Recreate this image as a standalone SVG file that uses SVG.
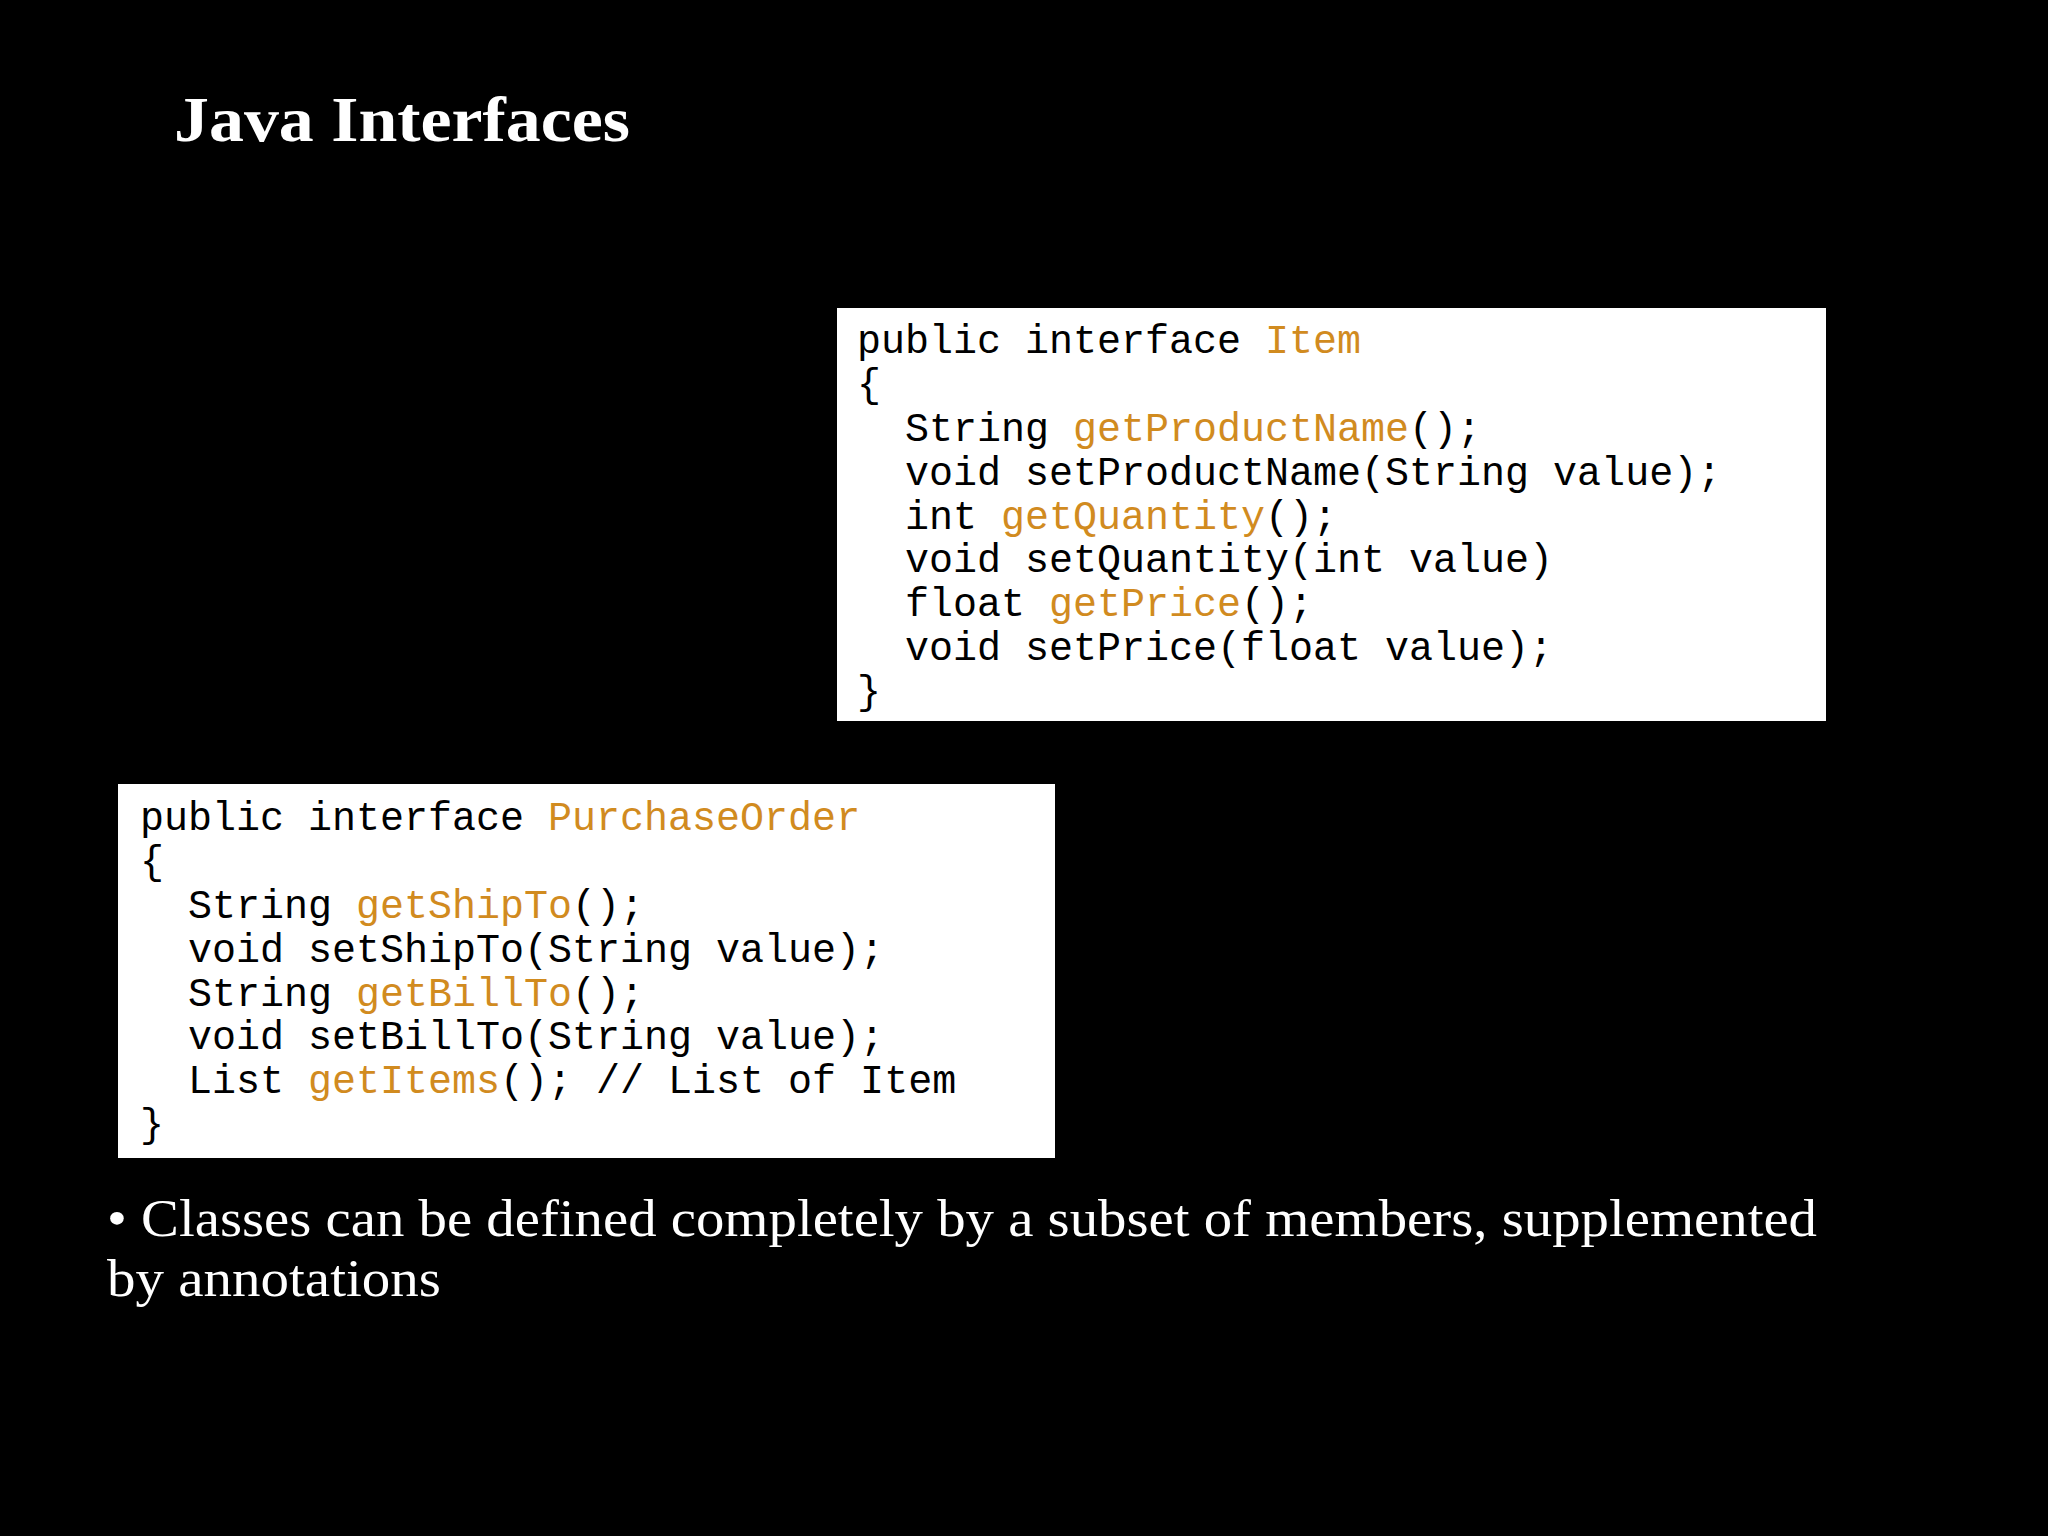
<svg xmlns="http://www.w3.org/2000/svg" width="2048" height="1536" viewBox="0 0 2048 1536">
<style>
.code{font-family:"Liberation Mono","DejaVu Sans Mono",monospace;font-size:40px;fill:#000;white-space:pre}
.k{fill:#d18b1f}
.box{fill:#fff}
</style>
<rect width="2048" height="1536" fill="#000"/>
<text x="174" y="141" font-family="Liberation Serif,serif" font-weight="bold" font-size="64" fill="#fff" textLength="456" lengthAdjust="spacingAndGlyphs">Java Interfaces</text>
<g id="item">
<rect class="box" x="837" y="308" width="989" height="413"/>
<text class="code" xml:space="preserve">
<tspan x="857" y="353">public interface <tspan class="k">Item</tspan></tspan>
<tspan x="857" y="397">{</tspan>
<tspan x="857" y="441">  String <tspan class="k">getProductName</tspan>();</tspan>
<tspan x="857" y="485">  void setProductName(String value);</tspan>
<tspan x="857" y="529">  int <tspan class="k">getQuantity</tspan>();</tspan>
<tspan x="857" y="572">  void setQuantity(int value)</tspan>
<tspan x="857" y="616">  float <tspan class="k">getPrice</tspan>();</tspan>
<tspan x="857" y="660">  void setPrice(float value);</tspan>
<tspan x="857" y="704">}</tspan>
</text>
</g>
<g id="purchaseorder">
<rect class="box" x="118" y="784" width="937" height="374"/>
<text class="code" xml:space="preserve">
<tspan x="140" y="830">public interface <tspan class="k">PurchaseOrder</tspan></tspan>
<tspan x="140" y="874">{</tspan>
<tspan x="140" y="918">  String <tspan class="k">getShipTo</tspan>();</tspan>
<tspan x="140" y="962">  void setShipTo(String value);</tspan>
<tspan x="140" y="1006">  String <tspan class="k">getBillTo</tspan>();</tspan>
<tspan x="140" y="1049">  void setBillTo(String value);</tspan>
<tspan x="140" y="1093">  List <tspan class="k">getItems</tspan>(); // List of Item</tspan>
<tspan x="140" y="1137">}</tspan>
</text>
</g>
<text font-family="Liberation Serif,serif" font-size="52" fill="#fff">
<tspan x="107" y="1236" textLength="1710" lengthAdjust="spacingAndGlyphs">• Classes can be defined completely by a subset of members, supplemented</tspan>
<tspan x="107" y="1296" textLength="334" lengthAdjust="spacingAndGlyphs">by annotations</tspan>
</text>
</svg>
